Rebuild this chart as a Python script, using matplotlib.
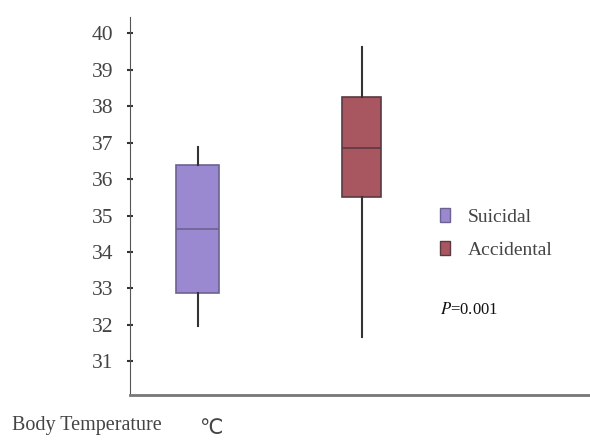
import matplotlib
matplotlib.use('Agg')
import matplotlib.pyplot as plt
from matplotlib.patches import Patch

plt.rcParams['font.family'] = ['Liberation Serif', 'DejaVu Serif']
plt.rcParams['mathtext.fontset'] = 'stix'

# box statistics (deg C)
groups = ['Suicidal', 'Accidental']
whislo = [31.97, 31.68]
q1 = [32.88, 35.52]
med = [34.63, 36.86]
q3 = [36.38, 38.26]
whishi = [36.88, 39.62]
colors = ['#9a88d0', '#a85660']
edges = ['#6a6390', '#5a3a42']
yticks = [31, 32, 33, 34, 35, 36, 37, 38, 39, 40]
p_text = '$P$=0.001'

stats = [dict(label=g, whislo=a, q1=b, med=c, q3=d, whishi=e)
         for g, a, b, c, d, e in zip(groups, whislo, q1, med, q3, whishi)]

fig = plt.figure(figsize=(5.9, 4.42), dpi=100)
ax = fig.add_axes([0.2203, 0.1063, 0.7797, 0.8552])

bp = ax.bxp(stats, positions=[1, 2], widths=[0.26, 0.24], patch_artist=True,
            showfliers=False, showcaps=False)
for box, fc, ec in zip(bp['boxes'], colors, edges):
    box.set_facecolor(fc)
    box.set_edgecolor(ec)
    box.set_linewidth(1.2)
for i, line in enumerate(bp['medians']):
    line.set_color(edges[i])
    line.set_linewidth(1.2)
for line in bp['whiskers']:
    line.set_color('#333333')
    line.set_linewidth(1.5)

ax.set_xlim(0.588, 3.393)
ax.set_ylim(30.08, 40.44)
ax.set_yticks(yticks)
ax.set_xticks([])
ax.tick_params(axis='y', direction='inout', length=4, width=1.5,
               colors='#333333', labelcolor='#444444', labelsize=15.5, pad=10)
for s in ['top', 'right']:
    ax.spines[s].set_visible(False)
ax.spines['left'].set_color('#555555')
ax.spines['bottom'].set_color('#777777')
ax.spines['bottom'].set_linewidth(2)

handles = [Patch(facecolor=c, edgecolor=e, label=g) for g, c, e in zip(groups, colors, edges)]
fig.legend(handles=handles, loc='upper left', bbox_to_anchor=(0.746, 0.529),
           frameon=False, fontsize=14, handlelength=0.5, handleheight=0.75,
           handletextpad=0.93, labelspacing=0.78, borderpad=0, borderaxespad=0,
           labelcolor='#444444')

fig.text(0.745, 0.299, p_text, fontsize=12, va='center', color='#111111')
fig.text(0.02, 0.038, 'Body Temperature', fontsize=14.5, va='center', color='#444444')
fig.text(0.337, 0.032, '℃', fontsize=15, va='center', color='#444444',
         family=['DejaVu Sans'])

fig.savefig('out.png', dpi=100)
